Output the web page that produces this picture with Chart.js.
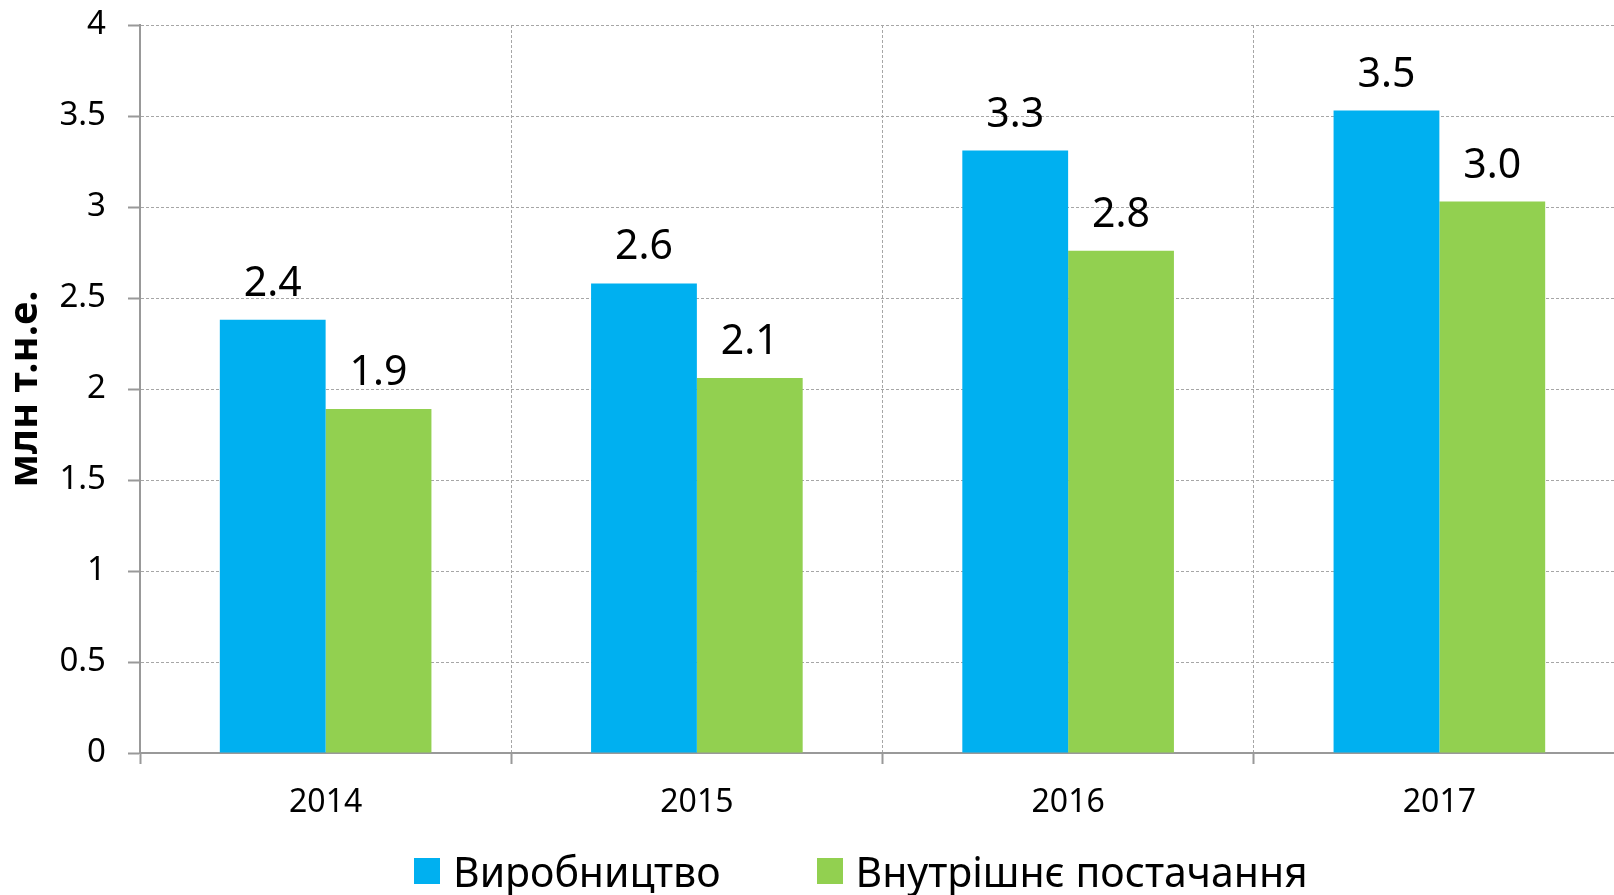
<!DOCTYPE html>
<html>
<head>
<meta charset="utf-8">
<script src="https://cdn.jsdelivr.net/npm/chart.js@4.4.0/dist/chart.umd.min.js"></script>
<style>
  html, body { margin: 0; padding: 0; background: #fff; overflow: hidden; }
  #wrap { position: relative; width: 1614px; height: 895px; overflow: hidden; }
  #legend {
    position: absolute; left: 414px; top: 843px;
    display: flex; align-items: center;
    font-family: "Noto Sans", sans-serif; font-size: 41px; color: #000;
    white-space: nowrap;
  }
  .item { display: flex; align-items: center; margin-right: 96px; }
  .box { width: 26px; height: 26px; margin-right: 13px; }
</style>
</head>
<body>
<div id="wrap">
  <canvas id="chart" width="1626" height="895"></canvas>
  <div id="legend"></div>
</div>
<script>
const years = ["2014", "2015", "2016", "2017"];
const production = [2.38, 2.58, 3.31, 3.53];
const supply = [1.89, 2.06, 2.76, 3.03];
const seriesNames = ["Виробництво", "Внутрішнє постачання"];
const colors = ["#00B0F0", "#92D050"];
const yTitle = "млн т.н.е.";

const FONT = "'Noto Sans', sans-serif";

// value labels above each bar
const barLabels = {
  id: "barLabels",
  afterDatasetsDraw(chart) {
    const ctx = chart.ctx;
    ctx.save();
    ctx.font = "41px " + FONT;
    ctx.fillStyle = "#000";
    ctx.textAlign = "center";
    ctx.textBaseline = "alphabetic";
    chart.data.datasets.forEach((ds, i) => {
      chart.getDatasetMeta(i).data.forEach((bar, j) => {
        ctx.fillText(ds.data[j].toFixed(1), bar.x, bar.y - 24);
      });
    });
    ctx.restore();
  },
};

new Chart(document.getElementById("chart"), {
  type: "bar",
  data: {
    labels: years,
    datasets: [
      { label: seriesNames[0], data: production, backgroundColor: colors[0] },
      { label: seriesNames[1], data: supply, backgroundColor: colors[1] },
    ],
  },
  options: {
    responsive: false,
    animation: false,
    layout: { padding: { top: 25, right: 1, bottom: 0, left: 0 } },
    categoryPercentage: 0.57,
    barPercentage: 1.0,
    plugins: {
      legend: { display: false },
      tooltip: { enabled: false },
    },
    scales: {
      x: {
        grid: {
          color: "#a6a6a6",
          lineWidth: 1,
          tickLength: 11,
          tickColor: "#999",
          tickWidth: 2,
          tickBorderDash: [],
        },
        border: { color: "#999", width: 2, dash: [3, 2] },
        ticks: { color: "#000", font: { family: FONT, size: 32 }, padding: 20 },
        afterFit: (scale) => { scale.height = 142; },
      },
      y: {
        min: 0,
        max: 4,
        ticks: {
          stepSize: 0.5,
          color: "#000",
          font: { family: FONT, size: 33 },
          padding: 22,
          callback: (v) => String(v),
        },
        grid: {
          color: "#a6a6a6",
          lineWidth: 1,
          tickLength: 12,
          tickColor: "#999",
          tickWidth: 2,
          tickBorderDash: [],
        },
        border: { color: "#999", width: 2, dash: [3, 2] },
        title: {
          display: true,
          text: yTitle,
          color: "#000",
          font: { family: FONT, size: 40, weight: "bold" },
          padding: { top: 2, bottom: 0 },
        },
        afterFit: (scale) => {
          scale.width = 140;
          scale.paddingTop = 0;
          scale.paddingBottom = 0;
        },
      },
    },
  },
  plugins: [barLabels],
});

// legend as html
const legend = document.getElementById("legend");
seriesNames.forEach((name, i) => {
  const item = document.createElement("div");
  item.className = "item";
  const box = document.createElement("div");
  box.className = "box";
  box.style.background = colors[i];
  const txt = document.createElement("span");
  txt.textContent = name;
  item.appendChild(box);
  item.appendChild(txt);
  legend.appendChild(item);
});
</script>
</body>
</html>
